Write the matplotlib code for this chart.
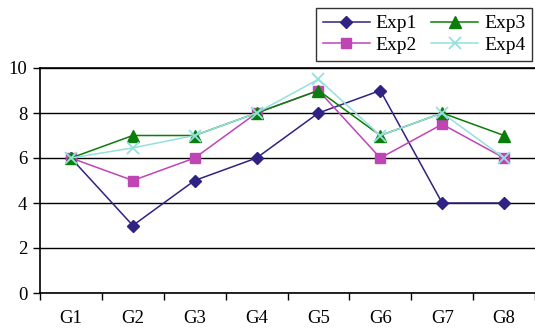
import numpy as np
import matplotlib.pyplot as plt
from matplotlib.ticker import FixedLocator, NullFormatter

plt.rcParams['font.family'] = ['Liberation Serif', 'DejaVu Serif']

groups = ['G1', 'G2', 'G3', 'G4', 'G5', 'G6', 'G7', 'G8']
exp1 = [6, 3, 5, 6, 8, 9, 4, 4]
exp2 = [6, 5, 6, 8, 9, 6, 7.5, 6]
exp3 = [6, 7, 7, 8, 9, 7, 8, 7]
exp4 = [6, 6.45, 7, 8, 9.5, 7, 8, 6]

x = np.arange(len(groups))

fig = plt.figure(figsize=(5.35, 3.32), dpi=100)
ax = fig.add_axes([40 / 535, 39 / 332, 1 - 40 / 535, 225 / 332])

ax.plot(x, exp1, color='#2e2383', marker='D', markersize=6.5, lw=1.1, label='Exp1', zorder=3)
ax.plot(x, exp2, color='#bf45b5', marker='s', markersize=7, lw=1.1, label='Exp2', zorder=3)
ax.plot(x, exp3, color='#0a7d0a', marker='^', markersize=8.5, lw=1.1, label='Exp3', zorder=4)
ax.plot(x, exp4, color='#95e0dc', marker='x', markersize=9, mew=1.3, lw=1.1, label='Exp4', zorder=5)

ax.set_xlim(-0.5, len(groups) - 0.5)
ax.set_ylim(0, 10)
ax.set_yticks([0, 2, 4, 6, 8, 10])
ax.yaxis.grid(True, color='black', lw=1.0)
ax.set_axisbelow(True)

# category labels centred, tick marks on the boundaries
ax.set_xticks(x)
ax.set_xticklabels(groups)
ax.tick_params(axis='x', which='major', length=0, pad=12.5)
ax.xaxis.set_minor_locator(FixedLocator(np.arange(-0.5, len(groups), 1)))
ax.xaxis.set_minor_formatter(NullFormatter())
ax.tick_params(axis='x', which='minor', length=5, width=1, direction='out')
ax.tick_params(axis='y', length=5, width=1, direction='out', pad=4)
ax.tick_params(labelsize=13.5)

for s in ['left', 'bottom', 'top']:
    ax.spines[s].set_color('black')
    ax.spines[s].set_linewidth(1.2)
ax.spines['right'].set_visible(False)

leg = fig.legend(loc='upper right', bbox_to_anchor=(532 / 535, 1 - 8 / 332), ncol=2,
                 fontsize=14, frameon=True, fancybox=False, edgecolor='black',
                 handlelength=2.4, columnspacing=0.75, handletextpad=0.3,
                 borderpad=0.35, labelspacing=0.2, borderaxespad=0)
leg.get_frame().set_linewidth(1.0)

fig.savefig('out.png', dpi=100)
